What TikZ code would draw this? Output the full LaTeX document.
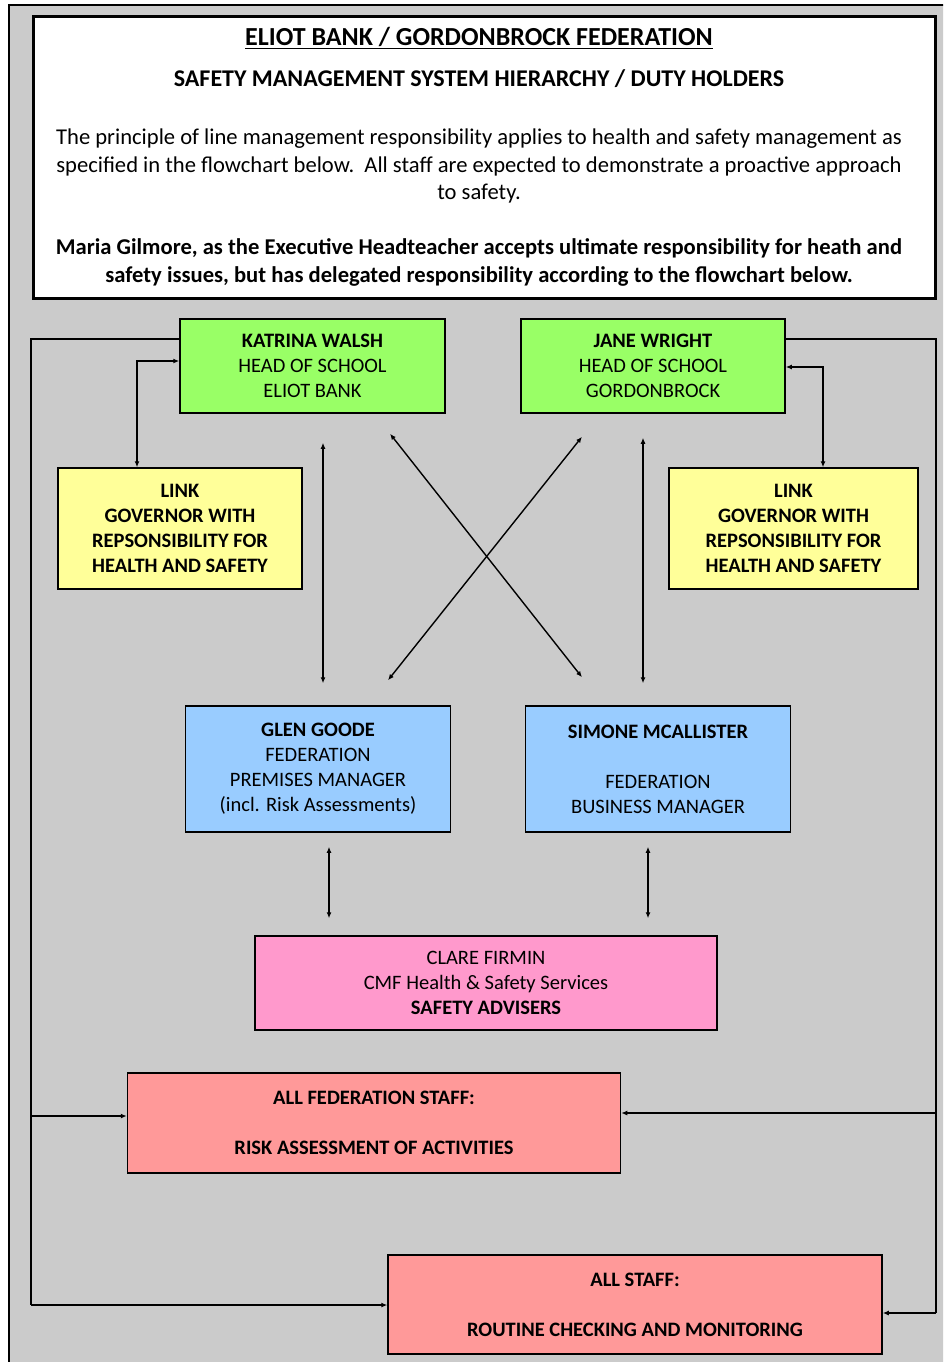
\documentclass[tikz,border=0pt]{standalone}
\usepackage{fontspec}
\setmainfont{Carlito}
\usetikzlibrary{arrows.meta}
\definecolor{bggray}{HTML}{CBCBCB}
\definecolor{headgreen}{HTML}{99FF66}
\definecolor{linkyellow}{HTML}{FFFF99}
\definecolor{mgrblue}{HTML}{99CCFF}
\definecolor{advpink}{HTML}{FF99CC}
\definecolor{staffred}{HTML}{FF9999}
\tikzset{
  box/.style={draw=black, line width=1.5pt, align=center, inner sep=0pt,
    font=\fontsize{20.5}{25}\selectfont},
  boldbox/.style={box, font=\fontsize{20.5}{25}\selectfont\bfseries},
  conn/.style={line width=1.4pt, draw=black},
  tip/.style={-{Latex[length=6pt,width=5pt]}},
  tips/.style={{Latex[length=6pt,width=5pt]}-{Latex[length=6pt,width=5pt]}},
}
\begin{document}
\begin{tikzpicture}[x=1pt,y=-1pt]
\useasboundingbox (0,0) rectangle (943,1362);
\fill[white] (0,0) rectangle (943,1362);
\begin{scope}
\clip (0,0) rectangle (943,1362);
\draw[fill=bggray, line width=2pt] (9,5) rectangle (960,1380);
\end{scope}
% header
\node[draw=black, fill=white, line width=3pt, minimum width=902pt, minimum height=281pt, inner sep=0pt] (hdr) at (484,157.5) {};
\node[font=\fontsize{26}{30}\selectfont\bfseries] (title) at (479,38) {\underline{ELIOT BANK / GORDONBROCK FEDERATION}};
\node[font=\fontsize{24}{28}\selectfont\bfseries] (sub) at (479,79) {SAFETY MANAGEMENT SYSTEM HIERARCHY / DUTY HOLDERS};
\node[font=\fontsize{22.6}{27.5}\selectfont, align=center] (para) at (479,166) {The principle of line management responsibility applies to health and safety management as\\specified in the flowchart below.\ \ All staff are expected to demonstrate a proactive approach\\to safety.};
\node[font=\fontsize{22.6}{28}\selectfont\bfseries, align=center] (maria) at (479,262) {Maria Gilmore, as the Executive Headteacher accepts ultimate responsibility for heath and\\safety issues, but has delegated responsibility according to the flowchart below.};
% boxes
\node[box, fill=headgreen, minimum width=265pt, minimum height=94pt] (katrina) at (312.5,366) {\textbf{KATRINA WALSH}\\HEAD OF SCHOOL\\ELIOT BANK};
\node[box, fill=headgreen, minimum width=264pt, minimum height=94pt] (jane) at (653,366) {\textbf{JANE WRIGHT}\\HEAD OF SCHOOL\\GORDONBROCK};
\node[boldbox, fill=linkyellow, minimum width=244pt, minimum height=121pt] (linkl) at (180,528.5) {LINK\\GOVERNOR WITH\\REPSONSIBILITY FOR\\HEALTH AND SAFETY};
\node[boldbox, fill=linkyellow, minimum width=249pt, minimum height=121pt] (linkr) at (793.5,528.5) {LINK\\GOVERNOR WITH\\REPSONSIBILITY FOR\\HEALTH AND SAFETY};
\node[box, fill=mgrblue, minimum width=265pt, minimum height=126pt] (glen) at (318,769) {\textbf{GLEN GOODE}\\FEDERATION\\PREMISES MANAGER\\(incl. Risk Assessments)};
\node[box, fill=mgrblue, minimum width=265pt, minimum height=126pt] (simone) at (658,769) {\textbf{SIMONE MCALLISTER}\\[25pt]FEDERATION\\BUSINESS MANAGER};
\node[box, fill=advpink, minimum width=462pt, minimum height=94pt] (clare) at (486,983) {CLARE FIRMIN\\CMF Health \& Safety Services\\\textbf{SAFETY ADVISERS}};
\node[boldbox, fill=staffred, minimum width=493pt, minimum height=100pt] (allfed) at (374,1123) {ALL FEDERATION STAFF:\\[25pt]RISK ASSESSMENT OF ACTIVITIES};
\node[boldbox, fill=staffred, minimum width=494pt, minimum height=99pt] (allstaff) at (635,1304.5) {ALL STAFF:\\[25pt]ROUTINE CHECKING AND MONITORING};
% corner coordinates
\coordinate (lk) at (137,361);
\coordinate (rk) at (823,367);
\coordinate (lt) at (31,339);
\coordinate (lfed) at (31,1116);
\coordinate (lbot) at (31,1305);
\coordinate (rt) at (936,339);
\coordinate (rfed) at (936,1113);
\coordinate (rbot) at (936,1313);
% link governor arrows
\draw[conn, tips] (katrina.west |- lk) -| (linkl.north -| lk);
\draw[conn, tips] (jane.east |- rk) -| (linkr.north -| rk);
% outer feedback lines
\draw[conn] (katrina.west |- lt) -- (lt) -- (lbot);
\draw[conn, tip] (lbot) -- (allstaff.west |- lbot);
\draw[conn, tip] (lfed) -- (allfed.west |- lfed);
\draw[conn] (jane.east |- rt) -- (rt) -- (rbot);
\draw[conn, tip] (rbot) -- (allstaff.east |- rbot);
\draw[conn, tip] (rfed) -- (allfed.east |- rfed);
% vertical arrows
\draw[conn, tips] ([xshift=10.5pt,yshift=-29pt]katrina.south) -- ([xshift=5pt,yshift=22pt]glen.north);
\draw[conn, tips] ([xshift=-10pt,yshift=-24pt]jane.south) -- ([xshift=-15pt,yshift=22pt]simone.north);
% diagonals
\draw[conn, tips] ([xshift=77.5pt,yshift=-20pt]katrina.south) -- ([xshift=-76pt,yshift=28pt]simone.north);
\draw[conn, tips] ([xshift=-71pt,yshift=-23pt]jane.south) -- ([xshift=70pt,yshift=25pt]glen.north);
% to advisers
\draw[conn, tips] ([xshift=11pt,yshift=-14pt]glen.south) -- ([xshift=-157pt,yshift=17pt]clare.north);
\draw[conn, tips] ([xshift=-10pt,yshift=-14pt]simone.south) -- ([xshift=162pt,yshift=17pt]clare.north);
\end{tikzpicture}
\end{document}
